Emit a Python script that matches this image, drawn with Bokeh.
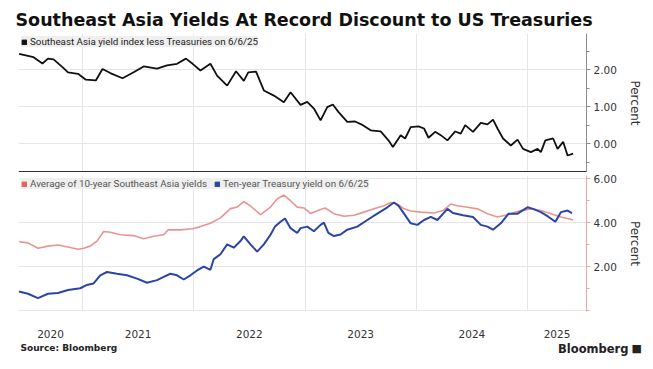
from bokeh.plotting import figure
from bokeh.layouts import column, row
from bokeh.models import (FixedTicker, Span, Label, Legend, LegendItem, Range1d,
                          NumeralTickFormatter)
from bokeh.embed import file_html
from bokeh.resources import INLINE

# ---------------- data (decimal years) ----------------
spread_t = [2020.43, 2020.56, 2020.64, 2020.69, 2020.74, 2020.82, 2020.87, 2020.96,
            2021.03, 2021.12, 2021.18, 2021.25, 2021.36, 2021.46, 2021.55, 2021.67,
            2021.76, 2021.85, 2021.93, 2021.99, 2022.06, 2022.15, 2022.21, 2022.30,
            2022.38, 2022.45, 2022.49, 2022.56, 2022.63, 2022.72, 2022.81, 2022.87,
            2022.96, 2023.02, 2023.08, 2023.14, 2023.20, 2023.25, 2023.30, 2023.38,
            2023.45, 2023.52, 2023.59, 2023.68, 2023.75, 2023.79, 2023.86, 2023.90,
            2023.95, 2024.02, 2024.07, 2024.11, 2024.17, 2024.22, 2024.28, 2024.35,
            2024.40, 2024.44, 2024.51, 2024.58, 2024.64, 2024.69, 2024.73, 2024.78,
            2024.85, 2024.91, 2024.96, 2025.03, 2025.09, 2025.12, 2025.16, 2025.23,
            2025.27, 2025.32, 2025.36, 2025.41]
spread_v = [2.43, 2.34, 2.17, 2.30, 2.28, 2.07, 1.93, 1.89,
            1.73, 1.71, 2.02, 1.91, 1.77, 1.93, 2.09, 2.03,
            2.12, 2.16, 2.30, 2.16, 1.98, 2.16, 1.84, 1.57,
            1.96, 1.70, 1.93, 1.95, 1.44, 1.30, 1.12, 1.39,
            1.05, 1.13, 0.95, 0.63, 0.99, 1.06, 0.86, 0.59,
            0.60, 0.50, 0.36, 0.33, 0.09, -0.09, 0.23, 0.14,
            0.45, 0.47, 0.41, 0.16, 0.32, 0.23, 0.09, 0.33,
            0.27, 0.50, 0.32, 0.56, 0.52, 0.65, 0.41, 0.14,
            -0.05, 0.11, -0.14, -0.23, -0.14, -0.23, 0.09, 0.14,
            -0.14, 0.05, -0.32, -0.27]

sea_t = [2020.43, 2020.51, 2020.60, 2020.69, 2020.78, 2020.87, 2020.96, 2021.01,
         2021.07, 2021.13, 2021.19, 2021.25, 2021.34, 2021.46, 2021.55, 2021.64,
         2021.73, 2021.77, 2021.88, 2021.99, 2022.06, 2022.15, 2022.24, 2022.33,
         2022.39, 2022.45, 2022.51, 2022.60, 2022.69, 2022.75, 2022.81, 2022.87,
         2022.93, 2022.99, 2023.05, 2023.14, 2023.18, 2023.26, 2023.35, 2023.44,
         2023.53, 2023.62, 2023.71, 2023.77, 2023.83, 2023.89, 2023.95, 2024.04,
         2024.16, 2024.24, 2024.31, 2024.37, 2024.46, 2024.55, 2024.64, 2024.73,
         2024.82, 2024.94, 2025.03, 2025.12, 2025.21, 2025.30, 2025.36, 2025.41]
sea_v = [3.13, 3.08, 2.83, 2.93, 2.98, 2.89, 2.79, 2.83,
         2.93, 3.16, 3.60, 3.56, 3.45, 3.41, 3.27, 3.38,
         3.45, 3.67, 3.67, 3.72, 3.82, 3.97, 4.22, 4.64,
         4.71, 4.96, 4.76, 4.37, 4.71, 5.08, 5.26, 5.00,
         4.71, 4.67, 4.42, 4.60, 4.67, 4.41, 4.29, 4.34,
         4.48, 4.63, 4.77, 4.92, 4.85, 4.63, 4.53, 4.48,
         4.44, 4.55, 4.85, 4.77, 4.70, 4.63, 4.41, 4.26,
         4.36, 4.55, 4.63, 4.55, 4.41, 4.26, 4.19, 4.12]

ust_t = [2020.43, 2020.51, 2020.60, 2020.69, 2020.78, 2020.87, 2020.98, 2021.04,
         2021.10, 2021.16, 2021.22, 2021.31, 2021.40, 2021.49, 2021.58, 2021.67,
         2021.73, 2021.79, 2021.85, 2021.91, 2021.97, 2022.03, 2022.09, 2022.15,
         2022.18, 2022.24, 2022.30, 2022.36, 2022.42, 2022.45, 2022.51, 2022.57,
         2022.63, 2022.69, 2022.73, 2022.78, 2022.82, 2022.87, 2022.93, 2022.96,
         2023.02, 2023.08, 2023.14, 2023.17, 2023.21, 2023.26, 2023.32, 2023.38,
         2023.47, 2023.56, 2023.65, 2023.74, 2023.80, 2023.84, 2023.89, 2023.95,
         2024.01, 2024.07, 2024.13, 2024.19, 2024.28, 2024.33, 2024.42, 2024.51,
         2024.58, 2024.64, 2024.69, 2024.76, 2024.83, 2024.91, 2025.00, 2025.05,
         2025.12, 2025.19, 2025.25, 2025.30, 2025.36, 2025.40]
ust_v = [0.86, 0.76, 0.56, 0.76, 0.79, 0.93, 1.01, 1.16,
         1.23, 1.60, 1.75, 1.67, 1.60, 1.45, 1.26, 1.38,
         1.53, 1.67, 1.60, 1.41, 1.60, 1.82, 2.00, 1.85,
         2.34, 2.56, 3.01, 2.86, 3.16, 3.38, 3.01, 2.68,
         3.01, 3.45, 3.82, 4.04, 4.19, 3.75, 3.53, 3.75,
         3.82, 3.61, 3.90, 4.00, 3.53, 3.39, 3.46, 3.68,
         3.82, 4.12, 4.41, 4.70, 4.92, 4.77, 4.41, 3.97,
         3.90, 4.12, 4.26, 4.12, 4.63, 4.44, 4.34, 4.26,
         3.90, 3.82, 3.68, 3.97, 4.41, 4.41, 4.70, 4.63,
         4.48, 4.26, 4.04, 4.48, 4.55, 4.44]

year_labels = ["2020", "2021", "2022", "2023", "2024", "2025"]
year_starts = [2020, 2021, 2022, 2023, 2024, 2025]

top_ticks = [0, 1, 2]
bot_ticks = [2, 4, 6]

# ---------------- layout constants ----------------
W = 650
FL, FR = 18, 586          # frame left / right in pixels
X0, X1 = 2020.425, 2025.53
FONT = "DejaVu Sans"
GRID = "#e6e6e6"
RED = "#e9958f"
BLUE = "#2a45a5"
NAN = float("nan")

# year tick-label positions: middle of the visible part of each year
mid_pos = []
for y in year_starts:
    a, b = max(y, X0), min(y + 1, X1)
    mid_pos.append(round((a + b) / 2, 3))
overrides = {p: l for p, l in zip(mid_pos, year_labels)}


def style_right_axis(ax, line_color):
    ax.axis_line_color = line_color
    ax.major_tick_line_color = line_color
    ax.minor_tick_line_color = line_color
    ax.major_tick_in = 0
    ax.major_tick_out = 4
    ax.minor_tick_in = 0
    ax.minor_tick_out = 3
    ax.formatter = NumeralTickFormatter(format="0.00")
    ax.major_label_text_font = FONT
    ax.major_label_text_font_size = "10.5px"
    ax.major_label_text_color = "#333333"
    ax.major_label_standoff = 3
    ax.axis_label = "Percent"
    ax.axis_label_text_font = FONT
    ax.axis_label_text_font_size = "12px"
    ax.axis_label_text_font_style = "normal"
    ax.axis_label_text_color = "#333333"
    ax.axis_label_standoff = 8


def make_legend(items, color):
    return Legend(items=items, location="top_left", orientation="horizontal",
                  background_fill_color="#efefef", background_fill_alpha=1.0,
                  border_line_color=None, label_text_font="Roboto",
                  label_text_font_size="9.8px", label_text_color=color,
                  glyph_width=6, glyph_height=6, label_height=10,
                  label_standoff=3, padding=3, margin=3, spacing=7)


def legend_swatch(fig, color):
    # data-less box glyph: only used for its legend swatch
    return fig.quad(left=[NAN], right=[NAN], top=[NAN], bottom=[NAN],
                    fill_color=color, line_color=color)


# ---------------- top panel ----------------
top = figure(width=W, height=172, x_range=Range1d(X0, X1),
             y_range=Range1d(-0.78, 2.98), y_axis_location="right",
             output_backend="svg", toolbar_location=None,
             min_border_left=FL, min_border_right=W - FR, min_border_top=33,
             min_border_bottom=0)
top.title.text = "Southeast Asia Yields At Record Discount to US Treasuries"
top.title.text_font = FONT
top.title.text_font_style = "bold"
top.title.text_font_size = "17.5px"
top.title.text_color = "#111111"
top.title.align = "left"
top.title.offset = -3
top.title.standoff = 8
top.outline_line_color = None
top.xaxis.visible = False
top.xgrid.ticker = FixedTicker(ticks=year_starts[1:])
top.xgrid.grid_line_color = GRID
top.yaxis.ticker = FixedTicker(ticks=top_ticks, minor_ticks=[-0.5, 0.5, 1.5, 2.5])
top.ygrid.ticker = FixedTicker(ticks=top_ticks)
top.ygrid.grid_line_color = GRID
style_right_axis(top.yaxis[0], "#8c8c8c")

top.line(spread_t, spread_v, color="#111111", line_width=1.8)
sq_top = legend_swatch(top, "#111111")
top.add_layout(make_legend([LegendItem(label="Southeast Asia yield index less Treasuries on 6/6/25",
                                       renderers=[sq_top])], "#222222"))
top.add_layout(Span(location=top.y_range.start, dimension="width",
                    line_color="#333333", line_width=3))

# ---------------- bottom panel ----------------
bot = figure(width=W, height=168, x_range=top.x_range,
             y_range=Range1d(-0.05, 6.15), y_axis_location="right",
             output_backend="svg", toolbar_location=None,
             min_border_left=FL, min_border_right=W - FR, min_border_top=3,
             min_border_bottom=26)
bot.outline_line_color = None
bot.xaxis.ticker = FixedTicker(ticks=mid_pos)
bot.xaxis.major_label_overrides = overrides
bot.xaxis.axis_line_color = None
bot.xaxis.major_tick_line_color = None
bot.xaxis.minor_tick_line_color = None
bot.xaxis.major_label_standoff = 12
bot.xaxis.major_label_text_font = FONT
bot.xaxis.major_label_text_font_size = "10.5px"
bot.xaxis.major_label_text_color = "#333333"
bot.xgrid.ticker = FixedTicker(ticks=year_starts[1:])
bot.xgrid.grid_line_color = GRID
bot.yaxis.ticker = FixedTicker(ticks=bot_ticks, minor_ticks=[0, 1, 3, 5])
bot.ygrid.ticker = FixedTicker(ticks=[0] + bot_ticks)
bot.ygrid.grid_line_color = GRID
style_right_axis(bot.yaxis[0], "#eaa5a5")

bot.line(sea_t, sea_v, color=RED, line_width=1.6)
bot.line(ust_t, ust_v, color=BLUE, line_width=2.0)
sq_red = legend_swatch(bot, "#e8625c")
sq_blue = legend_swatch(bot, BLUE)
bot.add_layout(make_legend([
    LegendItem(label="Average of 10-year Southeast Asia yields", renderers=[sq_red]),
    LegendItem(label="Ten-year Treasury yield on 6/6/25", renderers=[sq_blue]),
], "#555555"))

# ---------------- footer (own row, so its frame spans the full width) ----------------
foot = figure(width=W, height=27, x_range=Range1d(0, W), y_range=Range1d(0, 27),
              x_axis_location=None, y_axis_location=None,
              output_backend="svg", toolbar_location=None,
              min_border_left=0, min_border_right=0,
              min_border_top=0, min_border_bottom=0)
foot.outline_line_color = None
foot.grid.visible = False
foot.add_layout(Label(x=20, y=20, text="Source: Bloomberg",
                      text_font=FONT, text_font_style="bold", text_font_size="9px",
                      text_color="#222222", text_baseline="middle", text_align="left"))
foot.add_layout(Label(x=628, y=19, text="Bloomberg",
                      text_font=FONT, text_font_style="bold", text_font_size="11.5px",
                      text_color="#222222", text_baseline="middle", text_align="right"))
foot.add_layout(Label(x=631, y=19, text="■",
                      text_font=FONT, text_font_size="11px",
                      text_color="#222222", text_baseline="middle", text_align="left"))

layout = column(top, bot, row(foot), spacing=0)
open("out.html", "w").write(file_html(layout, INLINE))
